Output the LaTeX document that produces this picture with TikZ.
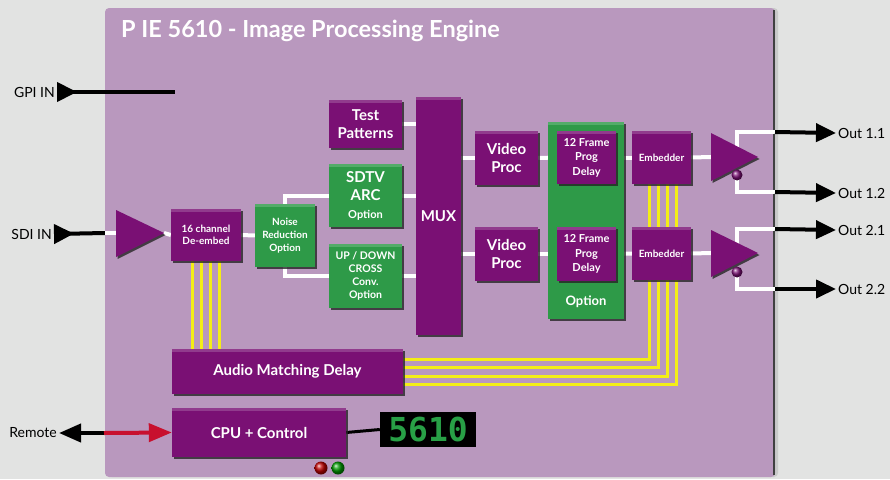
\documentclass[tikz,border=0pt]{standalone}
\usepackage{fontspec}
\setmainfont{Lato}
\newfontfamily\digitfont{DejaVu Sans Mono}
\usepackage{xcolor}
\usepackage{tikz}
\usetikzlibrary{arrows.meta,shadows}

\definecolor{pagegray}{RGB}{226,227,226}
\definecolor{panelc}{RGB}{185,152,190}
\definecolor{boxpurple}{RGB}{122,16,116}
\definecolor{boxgreen}{RGB}{46,154,72}
\definecolor{busyellow}{RGB}{244,238,22}
\definecolor{remred}{RGB}{200,16,46}
\definecolor{digitgreen}{RGB}{40,160,70}

\pgfdeclarelayer{panel}
\pgfdeclarelayer{wires}
\pgfsetlayers{panel,wires,main}

\begin{document}
\begin{tikzpicture}[x=1pt,y=-1pt,
  blk/.style={inner sep=1pt, align=center, text=white,
    font=\bfseries\fontsize{15}{18}\selectfont,
    drop shadow={shadow xshift=1.5pt,shadow yshift=-2pt,opacity=.8,fill=black!85},
    path picture={\fill[white,opacity=.18] (path picture bounding box.north west) rectangle ([yshift=-3pt]path picture bounding box.north east);}},
  pbox/.style={blk, fill=boxpurple},
  gbox/.style={blk, fill=boxgreen},
  tiny/.style={font=\bfseries\fontsize{10}{12.5}\selectfont},
  wire/.style={white, line width=4pt},
  bus/.style={busyellow, line width=3pt},
  inarrow/.style={line width=4pt, {Triangle[reversed,length=20pt,width=19pt]}-},
  outarrow/.style={line width=4pt, -{Triangle[length=20pt,width=18pt]}},
  lbl/.style={font=\fontsize{14}{16}\selectfont, inner sep=2pt},
  amp/.style={fill=boxpurple, drop shadow={shadow xshift=1.5pt,shadow yshift=-2pt,opacity=.8,fill=black!85}},
]
\useasboundingbox (0,0) rectangle (890,479);
\begin{pgfonlayer}{panel}
\fill[pagegray] (0,0) rectangle (890,479);
\fill[panelc, rounded corners=4pt, drop shadow={shadow xshift=3pt,shadow yshift=0pt,opacity=.25}] (105,8) rectangle (775,477);
\draw[black!75, line width=2pt] (774,10) -- (774,475);
\end{pgfonlayer}

% title
\node[anchor=base west, inner sep=0, text=white, font=\bfseries\fontsize{23.5}{25}\selectfont] (title) at (121,37) {P IE 5610 - Image Processing Engine};

% inputs
\node[lbl, anchor=east] (gpi) at (57,92) {GPI IN};
\node[lbl, anchor=east] (sdi) at (54,234) {SDI IN};
\node[lbl, anchor=east] (remote) at (59,433) {Remote};
\coordinate (gpiend) at (175,92);
\coordinate (sdiedge) at (105,233);
\coordinate (remedge) at (104,433);

% amplifiers
\fill[amp] (116,210) -- (164,233) -- (116,257) -- cycle;
\coordinate (a0in) at (116,233);
\coordinate (a0out) at (164,233);
\fill[amp] (711,133) -- (758,157) -- (711,181) -- cycle;
\fill[amp] (711,230) -- (758,253) -- (711,277) -- cycle;
\coordinate (a1in) at (711,157);
\coordinate (a2in) at (711,253);
\coordinate (a1top) at (737,150);
\coordinate (a2top) at (737,246);
\coordinate (ball1) at (737,175);
\coordinate (ball2) at (737,272);
\shade[ball color=boxpurple] (ball1) circle (5.5);
\shade[ball color=boxpurple] (ball2) circle (5.5);

% blocks
\node[pbox, tiny, minimum width=70pt, minimum height=52pt] (deemb) at (206,235) {16 channel\\De-embed};
\node[gbox, tiny, font=\bfseries\fontsize{10}{13}\selectfont, minimum width=60pt, minimum height=63pt] (noise) at (285,235.5) {Noise\\Reduction\\Option};
\node[pbox, minimum width=73pt, minimum height=48pt] (tp) at (365.5,124) {Test\\Patterns};
\node[gbox, minimum width=73pt, minimum height=63pt] (sdtv) at (365.5,195.5) {SDTV\\ARC\\\fontsize{11}{14}\selectfont Option};
\node[gbox, font=\bfseries\fontsize{10.5}{13}\selectfont, minimum width=73pt, minimum height=64pt] (updown) at (365.5,276) {UP / DOWN\\CROSS\\Conv.\\Option};
\node[pbox, minimum width=45pt, minimum height=238pt] (mux) at (438.5,216) {MUX};
\node[pbox, minimum width=63pt, minimum height=54pt] (vp1) at (506.5,158) {Video\\Proc};
\node[pbox, minimum width=63pt, minimum height=54pt] (vp2) at (506.5,254) {Video\\Proc};
\node[gbox, minimum width=76pt, minimum height=197pt] (opt) at (586,220.5) {};
\node[text=white, font=\bfseries\fontsize{13}{15}\selectfont] (opttxt) at (586,302) {Option};
\node[pbox, font=\bfseries\fontsize{11}{14.5}\selectfont, minimum width=59pt, minimum height=53pt] (dl1) at (586.5,157.5) {12 Frame\\Prog\\Delay};
\node[pbox, font=\bfseries\fontsize{11}{14.5}\selectfont, minimum width=59pt, minimum height=54pt] (dl2) at (586.5,254) {12 Frame\\Prog\\Delay};
\node[pbox, tiny, minimum width=59pt, minimum height=53pt] (emb1) at (661.5,157.5) {Embedder};
\node[pbox, tiny, minimum width=59pt, minimum height=53pt] (emb2) at (661.5,253.5) {Embedder};
\node[pbox, minimum width=231pt, minimum height=45pt] (audio) at (287.5,371.5) {Audio Matching Delay};
\node[pbox, minimum width=174pt, minimum height=49pt] (cpu) at (259,432.5) {CPU + Control};
\node[fill=black, inner sep=0, minimum width=96pt, minimum height=35pt, text=digitgreen,
  font=\digitfont\bfseries\fontsize{33}{33}\selectfont] (disp) at (428,429.5) {5610};

% leds
\shade[ball color=red!75!black] (321,468) circle (6.5);
\shade[ball color=green!60!black] (338,468) circle (6.5);

% outputs
\node[lbl, anchor=west] (out11) at (836,133) {Out 1.1};
\node[lbl, anchor=west] (out12) at (836,193) {Out 1.2};
\node[lbl, anchor=west] (out21) at (836,230) {Out 2.1};
\node[lbl, anchor=west] (out22) at (836,289) {Out 2.2};
\coordinate (o11) at (775,132);
\coordinate (o12) at (775,192);
\coordinate (o21) at (775,229);
\coordinate (o22) at (775,289);

\begin{pgfonlayer}{wires}
\draw[inarrow] (gpi.east) -- (gpiend);
\draw[inarrow] (sdi.east) -- (sdiedge);
\draw[wire] (sdiedge) -- (a0in);
\draw[wire] (a0out) -- (deemb.west);
\draw[wire] (deemb.east) -- (noise.west);
\draw[wire] (noise.north) |- (sdtv.west);
\draw[wire] (noise.south) |- (updown.west);
\draw[wire] (tp.east) -- (tp.east -| mux.west);
\draw[wire] (sdtv.east) -- (sdtv.east -| mux.west);
\draw[wire] (updown.east) -- (updown.east -| mux.west);
\draw[wire] (vp1.west -| mux.east) -- (vp1.west);
\draw[wire] (vp2.west -| mux.east) -- (vp2.west);
\draw[wire] (vp1.east) -- (dl1.west);
\draw[wire] (vp2.east) -- (dl2.west);
\draw[wire] (dl1.east) -- (emb1.west);
\draw[wire] (dl2.east) -- (emb2.west);
\draw[wire] (emb1.east) -- (a1in);
\draw[wire] (emb2.east) -- (a2in);
\draw[wire] (a1top) |- (o11);
\draw[wire] (ball1) |- (o12);
\draw[wire] (a2top) |- (o21);
\draw[wire] (ball2) |- (o22);
\draw[outarrow] (o11) -- (out11.west);
\draw[outarrow] (o12) -- (out12.west);
\draw[outarrow] (o21) -- (out21.west);
\draw[outarrow] (o22) -- (out22.west);
% audio buses
\foreach \x in {192,201,210,219}
  \draw[bus] (deemb.south -| \x,0) -- (audio.north -| \x,0);
\foreach \x in {649,658,667,676}
  \draw[bus] (emb1.south -| \x,0) -- (emb2.north -| \x,0);
\foreach \x/\y in {649/359,658/367,667/376,676/384}
  \draw[bus, line join=miter] (emb2.south -| \x,0) -- (\x,\y) -- (audio.east |- 0,\y);
% control
\draw[line width=4pt, {Triangle[length=22pt,width=18pt]}-] (remote.east) -- (remedge);
\draw[remred, line width=4pt, -{Triangle[length=23pt,width=18pt]}] (remedge) -- (cpu.west);
\draw[line width=3pt] (cpu.east) -- (disp.west);
\end{pgfonlayer}
\end{tikzpicture}
\end{document}
